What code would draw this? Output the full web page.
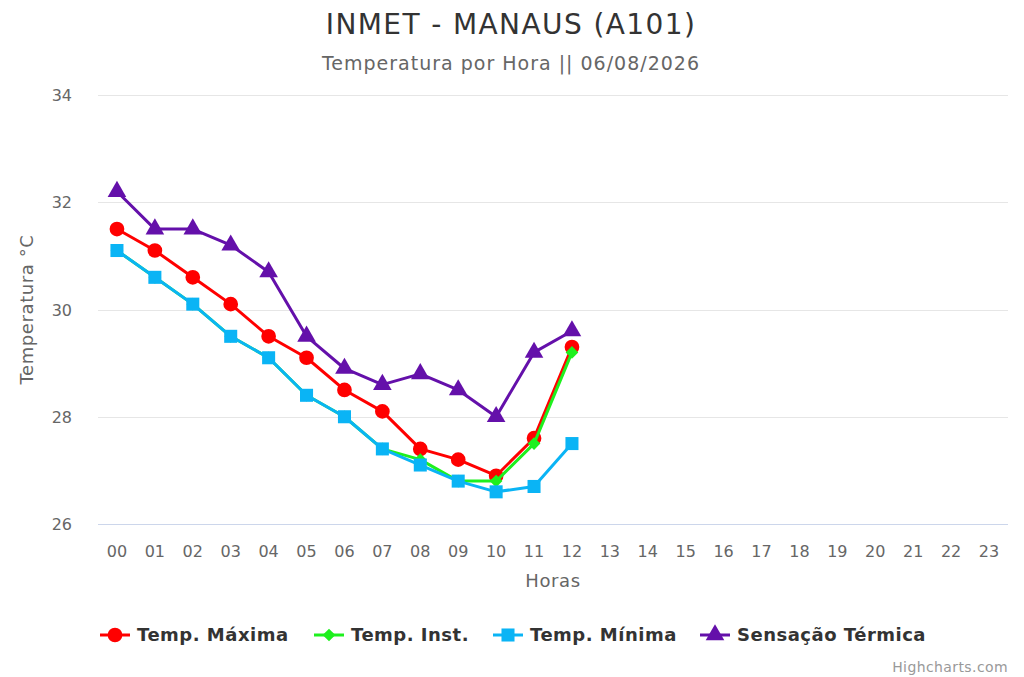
<!DOCTYPE html>
<html>
<head>
<meta charset="utf-8">
<script src="https://cdn.jsdelivr.net/npm/d3@7"></script>
<style>
  body { margin: 0; background: #fff; }
  svg { font-family: "DejaVu Sans", Verdana, sans-serif; }
</style>
</head>
<body>
<div id="chart"></div>
<script>
// ---------- DATA ----------
const hours = ["00","01","02","03","04","05","06","07","08","09","10","11","12","13","14","15","16","17","18","19","20","21","22","23"];
const tempMax = [31.5, 31.1, 30.6, 30.1, 29.5, 29.1, 28.5, 28.1, 27.4, 27.2, 26.9, 27.6, 29.3];
const tempInst = [31.1, 30.6, 30.1, 29.5, 29.1, 28.4, 28.0, 27.4, 27.2, 26.8, 26.8, 27.5, 29.2];
const tempMin = [31.1, 30.6, 30.1, 29.5, 29.1, 28.4, 28.0, 27.4, 27.1, 26.8, 26.6, 26.7, 27.5];
const sensacao = [32.2, 31.5, 31.5, 31.2, 30.7, 29.5, 28.9, 28.6, 28.8, 28.5, 28.0, 29.2, 29.6];
const yTicks = [26, 28, 30, 32, 34];

// highcharts style diamond: same half-width as the square
const diamond = {
	draw(ctx, s) {
		const r = Math.sqrt(s) / 2;
		ctx.moveTo(0, -r);
		ctx.lineTo(r, 0);
		ctx.lineTo(0, r);
		ctx.lineTo(-r, 0);
		ctx.closePath();
	},
};

const series = [
	{ name: "Temp. Máxima", values: tempMax, color: "#ff0000", symbol: d3.symbolCircle, size: 170 },
	{ name: "Temp. Inst.", values: tempInst, color: "#1ef01e", symbol: diamond, size: 160 },
	{ name: "Temp. Mínima", values: tempMin, color: "#0ab4f5", symbol: d3.symbolSquare, size: 170 },
	{ name: "Sensação Térmica", values: sensacao, color: "#6410aa", symbol: d3.symbolTriangle, size: 150 },
];

const size = { w: 1024, h: 677 };
const margin = { top: 95, right: 16, bottom: 153, left: 98 };

const svg = d3
	.select("#chart")
	.append("svg")
	.attr("width", size.w)
	.attr("height", size.h);

// scales
const xScale = d3
	.scaleBand()
	.domain(hours)
	.range([margin.left, size.w - margin.right]);
const yScale = d3
	.scaleLinear()
	.domain([26, 34])
	.range([size.h - margin.bottom, margin.top]);

// titles
svg.append("text")
	.attr("x", 511).attr("y", 34)
	.attr("text-anchor", "middle")
	.attr("font-size", 28)
	.attr("letter-spacing", 1.4)
	.attr("fill", "#333")
	.text("INMET - MANAUS (A101)");
svg.append("text")
	.attr("x", 511).attr("y", 70)
	.attr("text-anchor", "middle")
	.attr("font-size", 19)
	.attr("letter-spacing", 1)
	.attr("fill", "#666")
	.text("Temperatura por Hora || 06/08/2026");

// grid
const grid = svg.append("g").classed("grid", true);
grid.selectAll("line")
	.data(yTicks.slice(1))
	.enter()
	.append("line")
	.attr("x1", margin.left).attr("x2", size.w - margin.right)
	.attr("y1", (d) => Math.round(yScale(d)) + 0.5)
	.attr("y2", (d) => Math.round(yScale(d)) + 0.5)
	.attr("stroke", "#e6e6e6");

// x axis line
svg.append("line")
	.attr("x1", margin.left).attr("x2", size.w - margin.right)
	.attr("y1", Math.round(yScale(26)) + 0.5).attr("y2", Math.round(yScale(26)) + 0.5)
	.attr("stroke", "#ccd6eb");

// y labels
svg.append("g")
	.selectAll("text")
	.data(yTicks)
	.enter()
	.append("text")
	.attr("x", 72)
	.attr("y", (d) => yScale(d) + 6)
	.attr("text-anchor", "end")
	.attr("font-size", 16)
	.attr("fill", "#666")
	.text((d) => d);

// x labels
svg.append("g")
	.selectAll("text")
	.data(hours)
	.enter()
	.append("text")
	.attr("x", (d) => xScale(d) + xScale.bandwidth() / 2)
	.attr("y", 557)
	.attr("text-anchor", "middle")
	.attr("font-size", 16)
	.attr("fill", "#666")
	.text((d) => d);

// axis titles
svg.append("text")
	.attr("x", (margin.left + size.w - margin.right) / 2)
	.attr("y", 587)
	.attr("text-anchor", "middle")
	.attr("font-size", 18)
	.attr("letter-spacing", 0.6)
	.attr("fill", "#666")
	.text("Horas");
svg.append("text")
	.attr("transform", `translate(33, ${(margin.top + size.h - margin.bottom) / 2}) rotate(-90)`)
	.attr("text-anchor", "middle")
	.attr("font-size", 18)
	.attr("letter-spacing", 0.6)
	.attr("fill", "#666")
	.text("Temperatura °C");

// series
const cx = (i) => xScale(hours[i]) + xScale.bandwidth() / 2;
const line = d3
	.line()
	.x((d, i) => cx(i))
	.y((d) => yScale(d));

series.forEach((s) => {
	const g = svg.append("g").classed("series", true);
	g.append("path")
		.attr("d", line(s.values))
		.attr("fill", "none")
		.attr("stroke", s.color)
		.attr("stroke-width", 3)
		.attr("stroke-linejoin", "round");
	g.selectAll("path.marker")
		.data(s.values)
		.enter()
		.append("path")
		.classed("marker", true)
		.attr("d", d3.symbol().type(s.symbol).size(s.size))
		.attr("transform", (d, i) => `translate(${cx(i)}, ${yScale(d)})`)
		.attr("fill", s.color);
});

// legend
const legendX = [100, 314, 493, 700];
const legend = svg.append("g").classed("legend", true);
series.forEach((s, i) => {
	const lg = legend.append("g").attr("transform", `translate(${legendX[i]}, 635)`);
	lg.append("line")
		.attr("x1", 0).attr("x2", 30)
		.attr("stroke", s.color)
		.attr("stroke-width", 3);
	lg.append("path")
		.attr("d", d3.symbol().type(s.symbol).size(s.size))
		.attr("transform", "translate(15, 0)")
		.attr("fill", s.color);
	lg.append("text")
		.attr("x", 37)
		.attr("y", 6)
		.attr("font-size", 18)
		.attr("font-weight", "bold")
		.attr("letter-spacing", 0.5)
		.attr("fill", "#333")
		.text(s.name);
});

// credit
svg.append("text")
	.attr("x", 1008)
	.attr("y", 672)
	.attr("text-anchor", "end")
	.attr("font-size", 14)
	.attr("letter-spacing", 0.4)
	.attr("fill", "#999")
	.text("Highcharts.com");
</script>
</body>
</html>
